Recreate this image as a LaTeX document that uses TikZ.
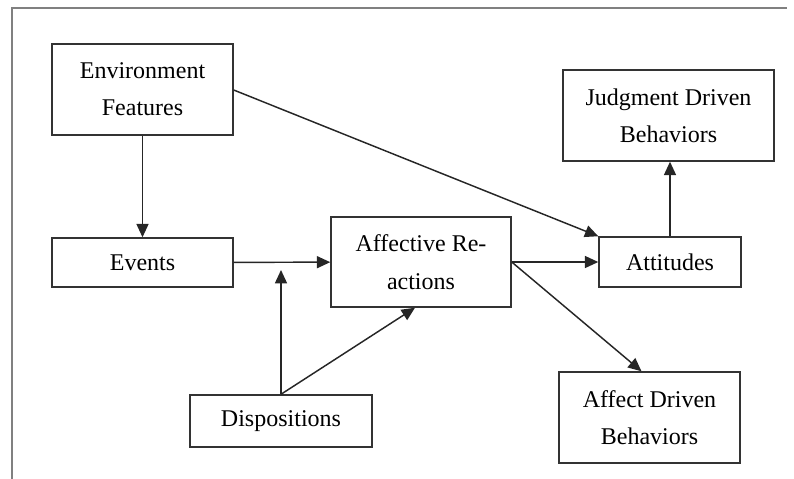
\documentclass[tikz,border=0pt]{standalone}
\usepackage{fontspec}
\setmainfont{Liberation Serif}
\usetikzlibrary{arrows.meta}

\tikzset{
  box/.style={draw=black!80, line width=1.1pt, align=center, inner sep=0pt,
    font=\fontsize{18}{28}\selectfont},
  link/.style={draw=black!85, line width=1.1pt, -{Triangle[length=10pt,width=9pt]}}
}

\begin{document}
\begin{tikzpicture}[x=0.75pt,y=-0.75pt]
    \useasboundingbox (0,0) rectangle (794,479);
    % frame (top and left edge only)
    \draw[gray,line width=1pt] (12,479) -- (12,8) -- (787,8);

    \node[box,minimum width=135.75pt,minimum height=68.25pt] (env) at (142.5,89.5) {Environment\\Features};
    \node[box,minimum width=158.25pt,minimum height=68.25pt] (jdb) at (668.5,115.5) {Judgment Driven\\Behaviors};
    \node[box,minimum width=135.75pt,minimum height=36.75pt] (events) at (142.5,262.5) {Events};
    \node[box,minimum width=135pt,minimum height=67.5pt] (affect) at (421,262) {Affective Re-\\actions};
    \node[box,minimum width=106.5pt,minimum height=37.5pt] (att) at (670,262) {Attitudes};
    \node[box,minimum width=136.5pt,minimum height=39pt] (disp) at (281,421) {Dispositions};
    \node[box,minimum width=135.75pt,minimum height=68.25pt] (adb) at (649.5,417.5) {Affect Driven\\Behaviors};

    \coordinate (moder) at (281,270); % arrow stops under the events line

    \draw[link] (env) -- (events);
    \draw[link] (env.east |- 0,90) -- (att.north west);
    \draw[link] (events) -- (affect);
    \draw[link] (disp.north) -- (moder);
    \draw[link] (disp.north) -- ([xshift=-4.5pt]affect.south);
    \draw[link] (affect.east) -- (att.west);
    \draw[link] (affect.east) -- ([xshift=-6pt]adb.north);
    \draw[link] (att) -- (att |- jdb.south);
\end{tikzpicture}
\end{document}
